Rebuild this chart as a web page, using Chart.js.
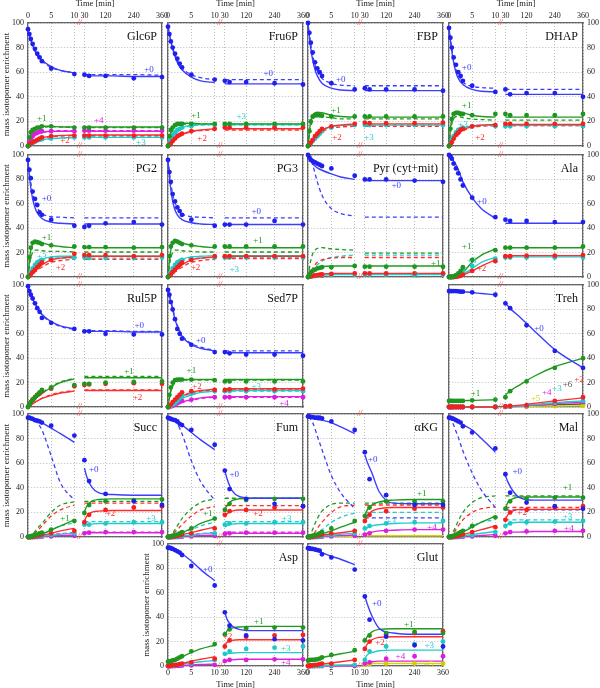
<!DOCTYPE html>
<html><head><meta charset="utf-8">
<script src="https://cdn.jsdelivr.net/npm/chart.js@4.4.0/dist/chart.umd.min.js"></script>
<style>
html,body{margin:0;padding:0;background:#fff;width:600px;height:688px;overflow:hidden;position:relative}
canvas{position:absolute}
</style>
</head><body>
<script>
// ---- time grids (minutes) ----
const T_FIT = [0,0.5,1,1.5,2,3,5,7,10, 30,40,60,90,150,240,360];
const T_OBS = [0,0.3,0.6,1,1.5,2,2.5,3,5,10, 30,50,120,240,360];
const X_TICKS = [0,5,10,30,120,240,360];
const Y_TICKS_STEP = 20;

// ---- Glc6P ----
const GLC6P_FIT = {
 m0:[95,88,82,78,74,70,64.5,61.5,59.5, 57,57,57,57,57,56.5,56.5],
 m1:[0,8,12,14,15,16,16,15.5,15.5, 15.5,15.5,15.5,15.5,15.5,15.5,15.5],
 m2:[0,1,2.5,4,5,6.5,8,8.5,9, 9,9,9,9,9,9,9],
 m3:[0,1,2,3,4,5,6,6.5,7, 7,7,7,7,7,7,7],
 m4:[0,4,7,9,10,11,12,12,12, 12,12,12,12,12,12,12]};
const GLC6P_ALT = {
 m0:[95,87,81,77,73.5,69,64,61.5,59.5, 58,58,58,58,58,58,57.5],
 m1:[0,7,11,13,14,15,15.5,15.5,15, 15,15,15,15,15,15,15],
 m2:[0,1,2.3,3.7,4.7,6,7.5,8,8.5, 8.5,8.5,8.5,8.5,8.5,8.5,8.5],
 m3:[0,0.8,1.8,2.8,3.7,4.8,5.8,6.3,6.8, 7.5,7.5,7.5,7.5,7.5,7.5,7.5],
 m4:[0,3.5,6.5,8.5,9.5,11,12,12.5,12.5, 12.5,12.5,12.5,12.5,12.5,12.5,12.5]};
const GLC6P_OBS = {
 m0:[95,91,87,83,79,75,72,69,63,58.5, 58,57,57,55,56],
 m1:[0,7,11,13,14,15,15,16,16,15, 15,15,15,15,15],
 m2:[0,1,2,3,4,5,6,7,8,8.5, 8.5,8.5,8.5,8.5,8.5],
 m3:[0,0.5,1.5,2.5,3.5,4.5,5,5.5,6,7, 7,7,7,7,7],
 m4:[0,3,6,8,10,11,11.5,12,12,12, 12.5,12.5,12.5,12.5,12.5]};
const GLC6P_LBL = [['+0',305,62],['+1',3,22.5],['+4',91,20.5],['+2',8,4],['+3',270,3]];

// ---- Fru6P ----
const FRU6P_FIT = {
 m0:[97,87,79,73,68,62,56,53,51.5, 50.5,50.5,50.5,50.5,50.5,50.5,50.5],
 m1:[0,10,15,17,18,18.5,18.5,18,18, 18,18,18,18,18,18,18],
 m2:[0,1,3,5,7,9.5,12,13,14, 14,14,14,14,14,14,14],
 m3:[0,4,8,11,13,15,17,17.5,17.5, 17.5,17.5,17.5,17.5,17.5,17.5,17.5]};
const FRU6P_ALT = {
 m0:[97,88,80,74,69.5,63.5,58,55.5,54, 54,54,54,54,54,54,54],
 m1:[0,8,13,15.5,16.5,17.5,18,18,18, 17.5,17.5,17.5,17.5,17.5,17.5,17.5],
 m2:[0,1,3,5,6.5,9,11.5,12.5,13, 13,13,13,13,13,13,13],
 m3:[0,3,6.5,9.5,11.5,14,16.5,17,17.5, 17.5,17.5,17.5,17.5,17.5,17.5,17.5]};
const FRU6P_OBS = {
 m0:[97,91,85,80,75,71,67,64,58,54, 53,52,52,51,50],
 m1:[0,8,13,15,17,18,18,18,18,18, 18,18,18,18,18],
 m2:[0,1,2,4,6,8,9,10,12,14, 15,15,15,15,15],
 m3:[0,3,6,9,11,13,14,15,16,17, 17,17,17,17,17]};
const FRU6P_LBL = [['+0',213,59],['+1',6,25],['+3',99,24],['+2',7.3,6]];

// ---- FBP ----
const FBP_FIT = {
 m0:[100,82,70,62,57,51,47,45.5,45, 45,45,45,45,45,45,45],
 m1:[0,18,25,27,27.5,27,25,24,23.5, 23.5,23.5,23.5,23.5,23.5,23.5,23.5],
 m2:[0,2,5,7.5,10,13,16,17,18, 18,18,18,18,18,18,18],
 m3:[0,2,5,7.5,10,13,16,17,17, 17,17,17,17,17,17,17]};
const FBP_ALT = {
 m0:[100,85,74,66,61,55,51,49.5,49, 49,49,49,49,49,49,49],
 m1:[0,14,21,24,25,24,23,22,22, 22,22,22,22,22,22,22],
 m2:[0,1.5,4,6.5,8.5,11.5,14.5,15.5,16, 16,16,16,16,16,16,16],
 m3:[0,2,4.5,7,9.5,12.5,15.5,16.5,17, 17,17,17,17,17,17,17]};
const FBP_OBS = {
 m0:[100,92,84,76,68,63,60,57,51,46, 47,46,46,46,45],
 m1:[0,12,20,24,25,25,25,24.5,24,24, 24,24,24,24,24],
 m2:[0,1,3,5,8,10,12,14,16,18, 19,18.5,18.5,18.5,19],
 m3:[0,1,2,4,6,8,10,12,15,17, 17,17,17,17,17]};
const FBP_LBL = [['+0',7,54],['+1',6,29],['+2',6.2,7],['+3',47,7]];

// ---- DHAP ----
const DHAP_FIT = {
 m0:[96,80,68,60,55,50,46,44.5,44, 42,42,42,42,42,42,42],
 m1:[0,20,26,28,28,27,25,24,23.5, 23.5,23.5,23.5,23.5,23.5,23.5,23.5],
 m2:[0,2,5,8,10,13,16,17,17.5, 17.5,17.5,17.5,17.5,17.5,17.5,17.5],
 m3:[0,3,7,10,12,14.5,16.5,17,17, 17,17,17,17,17,17,17]};
const DHAP_ALT = {
 m0:[96,82,71,63,58,52,48.5,47.5,47, 46,46,46,46,46,46,46],
 m1:[0,16,22,24,24,23,22,21.5,21, 21,21,21,21,21,21,21],
 m2:[0,1.5,4,7,9,12,15,16,16.5, 16.5,16.5,16.5,16.5,16.5,16.5,16.5],
 m3:[0,2.5,6,9,11,13.5,15.5,16.5,16.5, 16.5,16.5,16.5,16.5,16.5,16.5,16.5]};
const DHAP_OBS = {
 m0:[96,88,80,72,66,60,57,53,49,44, 46,42,43,43,40],
 m1:[0,14,22,26,27,27,26,26,25,26, 26,25,25,25,26],
 m2:[0,1,3,6,9,11,13,14,16,17, 18,18,18,18,18],
 m3:[0,2,5,8,11,13,14,15,16,16, 16,16,16,16,16]};
const DHAP_LBL = [['+0',3.8,64],['+1',3.8,32.5],['+3',3,17],['+2',6.7,7]];

// ---- PG2 ----
const PG2_FIT = {
 m0:[95,76,64,57,52.5,48,45,44,43.5, 43.5,43.5,43.5,43.5,43.5,43.5,43.5],
 m1:[0,20,27,29,29,28,26,25,24, 24,24,24,24,24,24,24],
 m2:[0,1,3,5,7,10,14,15.5,16.5, 17,17,17,17,17,17,17],
 m3:[0,3,7,10,12,14.5,16.5,17,17, 17,17,17,17,17,17,17]};
const PG2_ALT = {
 m0:[95,80,69,62,57,52,49.5,49,48.5, 48.5,48.5,48.5,48.5,48.5,48.5,48.5],
 m1:[0,14,20,22,22,21.5,21,21,20.5, 20.5,20.5,20.5,20.5,20.5,20.5,20.5],
 m2:[0,1,2,4,5.5,8,12,13.5,14.5, 14.5,14.5,14.5,14.5,14.5,14.5,14.5],
 m3:[0,2.5,6,8.5,10.5,13,15,15.5,15.5, 15.5,15.5,15.5,15.5,15.5,15.5,15.5]};
const PG2_OBS = {
 m0:[96,88,81,70,64,59,53,51,47,42, 41,42,44,45,43],
 m1:[0,16,24,28,29,28.5,28,27,26,25, 24.5,24.5,24.5,24,24.5],
 m2:[0,1,2,4,6,8,10,12,14,19, 18,18,18,17,18],
 m3:[0,2,4,7,10,12,13,14,15,16, 16,15.5,15.5,15.5,16]};
const PG2_LBL = [['+0',4,64.5],['+1',4,32],['+3',3,17],['+2',7,8]];

// ---- PG3 ----
const PG3_FIT = {
 m0:[96,75,62,55,51,47,44.5,43.5,43, 43,43,43,43,43,43,43],
 m1:[0,20,27,29.5,29.5,28,26,25,24, 24,24,24,24,24,24,24],
 m2:[0,1,3,5,7,10,14,15.5,16.5, 17,17,17,17,17,17,17],
 m3:[0,3,7,10,12,14.5,16.5,17,17.5, 17.5,17.5,17.5,17.5,17.5,17.5,17.5]};
const PG3_ALT = {
 m0:[96,80,68,61,57,52,49.5,49,48.5, 48.5,48.5,48.5,48.5,48.5,48.5,48.5],
 m1:[0,14,20,22,22,21.5,21,20.5,20.5, 20.5,20.5,20.5,20.5,20.5,20.5,20.5],
 m2:[0,1,2,4,5.5,8,12,13.5,14.5, 15,15,15,15,15,15,15],
 m3:[0,2.5,6,8.5,10.5,13,15,15.5,16, 16,16,16,16,16,16,16]};
const PG3_OBS = {
 m0:[96,86,78,68,62,57,54,51,47,42, 43,43,43,46,43],
 m1:[0,17,25,28,29.5,29,28,27,26,25, 25,25,25,25,25],
 m2:[0,1,2,4,6,8,10,12,14,17, 17,17,17,17,17],
 m3:[0,2,4,7,10,12,13,14,15,16, 16,16,16,16,16]};
const PG3_LBL = [['+0',163,53.5],['+1',170,30],['+2',5.9,8],['+3',70,6]];

// ---- Pyr (cyt+mit) ----
const PYR_FIT = {
 m0:[100,96,93,91,89.5,87.5,84.5,82,80, 79,79,79,79,79,79,79],
 m1:[0,3,5,6.5,7.5,8.5,9,9,9, 9,9,9,9,9,9,9],
 m2:[0,0.5,1,1.5,2,2.5,3,3,3, 3,3,3,3,3,3,3],
 m3:[0,0.2,0.5,1,1.2,1.5,2,2,2, 2,2,2,2,2,2,2]};
const PYR_ALT = {
 m0:[100,97,92,85,78,67,56,52,50, 49,49,49,49,49,49,49],
 m1:[0,12,19,22,23.5,24,23,22.5,22, 19.5,19.5,19.5,19.5,19.5,19.5,19.5],
 m2:[0,3,7,10,12,14,15.5,16,16, 16,16,16,16,16,16,16],
 m3:[0,2,5,8,10,13,16,17,18, 18,18,18,18,18,18,18]};
const PYR_OBS = {
 m0:[100,98,96,95,94,93,92,91,89,83, 80,80,80,79,78],
 m1:[0,2,4,5,6,7,7.5,8,8,9, 8.5,8.5,8.5,8.5,8.5],
 m2:[0,0.3,0.6,1,1.3,1.6,2,2.2,2.5,3, 3,3,3,3,3],
 m3:[0,0.2,0.4,0.6,0.8,1,1.2,1.4,1.6,2, 2,2,2,2,2]};
const PYR_LBL = [['+0',163,75],['+1',330,11],['+2',2.5,1],['+3',240,1]];

// ---- Ala ----
const ALA_FIT = {
 m0:[100,98.5,95,92,88,78,65,56,48, 44,44,44,44,44,44,44],
 m1:[0,0,0.3,0.7,1.5,4,12,18,23, 24,24,24,24,24,24,24],
 m2:[0,0,0,0.1,0.4,1.5,5,9,14, 17.5,17.5,17.5,17.5,17.5,17.5,17.5],
 m3:[0,0,0,0.3,0.8,2.5,7,12,16, 16.5,16.5,16.5,16.5,16.5,16.5,16.5]};
const ALA_OBS = {
 m0:[100,99,97,93,89,85,80,75,65,49, 47,46,46,45,45],
 m1:[0,0,0,0.5,1.5,3,5,8,14,22, 24,24,24,24,25],
 m2:[0,0,0,0,0.2,0.5,1,2,5,13, 17,17,17.5,17.5,18],
 m3:[0,0,0,0,0.5,1.5,3,5,9,15, 16,16,16,16,16]};
const ALA_LBL = [['+0',7.1,62],['+1',3.8,25],['+3',4.9,13],['+2',7,7]];

// ---- Rul5P ----
const RUL5P_FIT = {
 m0:[99,94,89,85,82,76,70,66.5,64, 62,62,62,62,62,61.5,61.5],
 m1:[0,2,4,6,8,11,16,20,23, 24,24,24,24,24,24,24],
 m2:[0,1,2.5,4,5,7,9.5,11.5,13, 13.5,13.5,13.5,13.5,13.5,13.5,13.5]};
const RUL5P_ALT = {
 m0:[99,93.5,88.5,84.5,81.5,75.5,69.5,66,63.5, 62.5,62.5,62.5,62.5,62.5,62,62],
 m1:[0,2,4,6,8,11.5,16.5,20.5,23.5, 25,25,25,25,25,25,25],
 m2:[0,1,2.5,4,5,7,10,12,13.5, 14,14,14,14,14,14,14]};
const RUL5P_OBS = {
 m0:[99,95,92,89,85,81,78,73,69,64, 62,62,60,59.5,59.5],
 m1:[0,2,4,6,8,10,12,14,16,18, 19,19,20,20.5,21],
 m2:[0,2,4,6,8,10,11,13,15,17, 18,18.5,19,19.5,19]};
const RUL5P_LBL = [['+0',263,67],['+1',220,29],['+2',256,8]];

// ---- Sed7P ----
const SED7P_FIT = {
 m0:[96,88,80,72,66,58,51,48,46, 44.5,44.5,44.5,44.5,44.5,44.5,44.5],
 m1:[0,12,18,21,22,22.5,22.5,22.5,22.5, 22.5,22.5,22.5,22.5,22.5,22.5,22.5],
 m2:[0,1,3,5,6.5,9,12,13.5,14.5, 15,15,15,15,15,15,15],
 m3:[0,0.5,1.5,3,4.5,7,10,12,13, 13.5,13.5,13.5,13.5,13.5,13.5,13.5],
 m4:[0,0.2,0.8,1.5,2.5,4,6,7.5,8.5, 8.5,8.5,8.5,8.5,8.5,8.5,8.5]};
const SED7P_ALT = {
 m0:[96,88.5,81,73,67,59,52,49,46.5, 46,46,46,46,46,46,46],
 m1:[0,11,17,20,21.5,22,22,22,22, 22,22,22,22,22,22,22],
 m2:[0,1,2.5,4.5,6,8.5,11.5,13,14, 14,14,14,14,14,14,14],
 m3:[0,0.5,1.5,3,4.5,7,10,12,13, 13,13,13,13,13,13,13],
 m4:[0,0.2,0.7,1.3,2.2,3.7,5.5,7,8, 8,8,8,8,8,8,8]};
const SED7P_OBS = {
 m0:[96,92,86,80,72,64,60,56,51,45, 45,44,43,43,42],
 m1:[0,10,16,20,22,22.5,22.5,22.5,22.5,22, 21,21,21,21,21],
 m2:[0,1,2,4,6,8,10,12,13,14, 14,14.5,14.5,14.5,15],
 m3:[0,0.5,1,2,3,5,7,9,11,13, 13,13,13,13,13],
 m4:[0,0,0.5,1,2,3,4,5,6,8, 8,8,8,8,8]};
const SED7P_LBL = [['+0',7,54],['+1',5,30],['+2',6.2,17],['+3',163,17],['+4',280,3]];

// ---- Treh ----
const TREH_FIT = {
 m0:[95,95,94.9,94.8,94.7,94.4,93.8,93,92, 85,83,79,74,63,47,32],
 m1:[5,5,5,5,5,5.2,5.4,5.6,6, 10,11.5,14.5,18,25,33,40],
 m2:[0,0,0,0,0,0,0,0,0, 0.5,0.7,1,1.5,3,5,7.5],
 m3:[0,0,0,0,0,0,0,0,0, 0.3,0.5,0.7,1,2,3.5,5],
 m4:[0,0,0,0,0,0,0,0,0, 0.2,0.3,0.5,0.8,1.5,2.8,4],
 m5:[0.3,0.3,0.3,0.3,0.3,0.3,0.3,0.3,0.3, 0.3,0.3,0.4,0.5,0.6,0.8,1],
 m6:[0,0,0,0,0,0,0,0,0, 0.1,0.2,0.3,0.5,1,1.8,2.5]};
const TREH_OBS = {
 m0:[95,95,95,95,95,94.8,94.5,94.5,94,92, 85,81,67,46,32],
 m1:[5,5,5,5,5,5,5,5,5.5,6, 8,13,21,32,40],
 m2:[0,0,0,0,0,0,0,0,0,0, 0.5,1,1.5,5,8],
 m3:[0,0,0,0,0,0,0,0,0,0, 0.3,0.6,1,3.5,5],
 m4:[0,0,0,0,0,0,0,0,0,0, 0.2,0.5,0.8,2.5,4],
 m5:[0.3,0.3,0.3,0.3,0.3,0.3,0.3,0.3,0.3,0.3, 0.3,0.3,0.4,0.7,1],
 m6:[0,0,0,0,0,0,0,0,0,0, 0.1,0.3,0.5,1.8,2.5]};
const TREH_LBL = [['+0',173,64.5],['+1',5.7,11],['+2',343,22.7],['+6',294,18],['+3',249,15.3],['+4',206,11.7],['+5',158,6.5]];

// ---- Succ ----
const SUCC_FIT = {
 m0:[97,96.5,96,95.5,95,93,88.5,84,77, 56,49,41,36,34.5,34,34],
 m1:[0,0.3,0.6,1,1.5,2.5,5.5,9,14, 20.5,25,29,30.5,31,31,31],
 m2:[0,0.1,0.3,0.6,1,1.5,3,5,7, 13,17,20,21,21.5,21.5,21.5],
 m3:[0,0,0.1,0.2,0.4,0.8,1.5,2.2,3, 9,10,10.5,11,11,11,11],
 m4:[0,0,0,0.1,0.2,0.4,0.8,1.2,1.5, 3,3.2,3.5,3.5,3.5,3.5,3.5]};
const SUCC_ALT = {
 m0:[97,96.5,96,95,93,87,66,44,30, null,null,null,null,null,null,null],
 m1:[0,1,2.5,4.5,7,11,20,26,28.5, 29,29,29,29,29,29,29],
 m2:[0,0.5,1.5,3,5,9,17,22,26, 27.5,27.5,27.5,27.5,27.5,27.5,27.5],
 m3:[0,0.2,0.5,1,1.5,3,6,9,11.5, 12.5,12.5,12.5,12.5,12.5,12.5,12.5],
 m4:[0,0,0.1,0.2,0.4,0.8,1.8,2.8,3.5, 4,4,4,4,4,4,4]};
const SUCC_OBS = {
 m0:[97,97,96.5,96,95,94.5,94,93,90.5,82.5, 62.5,45.5,35,29,26],
 m1:[0,0,0.5,1,1.5,2,3,3.5,6,13, 19.5,26,29,30,30.5],
 m2:[0,0,0,0.2,0.5,1,1.5,2,3,5, 12,18,22,24,25],
 m3:[0,0,0,0,0.2,0.4,0.6,0.8,1.5,3, 10,10,11,12,12],
 m4:[0,0,0,0,0,0,0.2,0.3,0.5,1, 3,3.5,4,4,4]};
const SUCC_LBL = [['+0',70,54.5],['+1',8,15],['+2',141,18.7],['+3',313,14.6]];

// ---- Fum ----
const FUM_FIT = {
 m0:[97,96.5,95.5,94.5,93,91,85,79,71, 54,47,38,33,31.5,31.5,31.5],
 m1:[0,0.5,1,1.5,2,3.5,7,11,15, 22,26,29.5,31,31.5,31.5,31.5],
 m2:[0,0.1,0.3,0.5,1,2,3.5,5.5,8, 16,19,21,22,22,22,22],
 m3:[0,0,0.1,0.2,0.4,0.8,1.5,2.5,3.5, 8,9.5,10.5,11,11,11,11],
 m4:[0,0,0,0.1,0.2,0.4,0.8,1.2,1.5, 2.5,3,3,3,3,3,3]};
const FUM_ALT = {
 m0:[97,96.5,95.5,94,92,84,62,45,30, null,null,null,null,null,null,null],
 m1:[0,1,3,6,9,15,23,28,31, 31.5,31.5,31.5,31.5,31.5,31.5,31.5],
 m2:[0,0.5,2,4,6,10,17,22,25, 25.5,25.5,25.5,25.5,25.5,25.5,25.5],
 m3:[0,0.2,0.5,1,1.5,3,6,9,12, 12.5,12.5,12.5,12.5,12.5,12.5,12.5],
 m4:[0,0,0.1,0.2,0.4,0.8,1.8,2.8,3.5, 4,4,4,4,4,4,4]};
const FUM_OBS = {
 m0:[97,96.5,96,95.5,95,94,92,91,87,75, 54,39,31,27,25],
 m1:[0,0,0.5,1,1.5,2,3,4,7,15, 22,27,30,31,31],
 m2:[0,0,0,0.2,0.5,1,1.5,2,3,7, 18,21,22,24,25],
 m3:[0,0,0,0,0.2,0.4,0.6,0.8,1.5,3, 10,11,11,12,12],
 m4:[0,0,0,0,0,0,0.2,0.3,0.5,1, 2.5,3,3.5,3.5,3.5]};
const FUM_LBL = [['+0',70,50.4],['+1',8.5,19],['+2',170,19],['+3',291,14.6]];

// ---- alpha-KG ----
const AKG_FIT = {
 m0:[97,97,96.5,96,95.5,95,93,89.5,84, 67,61,52,37,27.5,27,27],
 m1:[0,0.3,0.6,1,1.5,2.5,5,8,12, 17,22,26,28.5,30,30.5,30.5],
 m2:[0,0.1,0.3,0.5,1,1.5,2.5,3.5,5, 13,17,21,23,24,24,24],
 m3:[0,0,0.1,0.2,0.4,0.8,1.5,2.2,3, 6,7.5,9,10,11,11.5,11.5],
 m4:[0,0,0,0.1,0.2,0.4,0.8,1.2,1.5, 2,3,4,5,5.5,6,6],
 m5:[0.5,0.5,0.5,0.5,0.5,0.5,0.5,0.5,0.5, 1,1,1,1,1,1,1]};
const AKG_ALT = {
 m0:[97,96,93,88,82,71,50,36,23, 15.5,15.5,15.5,15.5,15.5,15.5,15.5],
 m1:[0,2,6,11,15,21,26.5,27.5,27.5, 27.5,27.5,27.5,27.5,27.5,27.5,27.5],
 m2:[0,0.5,2,4,7,12,20,24.5,26, 26,26,26,26,26,26,26],
 m3:[0,0.5,1,2,3,6,12,16,19.5, 20,20,20,20,20,20,20]};
const AKG_OBS = {
 m0:[98,98,97.5,97.5,97,97,97,96.5,94,87, 69,47,34,26,26],
 m1:[0,0,0.5,1,1.5,2,3,4,7,13, 17,24,29,29,29],
 m2:[0,0,0,0.2,0.5,1,1.5,2,3,5, 13,18,21,23,24],
 m3:[0,0,0,0,0.2,0.4,0.6,0.8,1.5,3, 7,9,11,12,13],
 m4:[0,0,0,0,0,0,0.2,0.3,0.5,1, 2,3,5,6,6]};
const AKG_LBL = [['+0',63,62.6],['+1',270,35.5],['+3',141,12.4],['+4',313,8]];

// ---- Mal ----
const MAL_FIT = {
 m0:[97,96.5,96,95,94,91.5,87,80,69, 50,45,38,32,30,30,30],
 m1:[0,0.5,1,1.5,2,4,8,12,17, 23,28,31,32.5,32.5,32.5,32.5],
 m2:[0,0.1,0.3,0.6,1,2,4,6,9, 14,18,21,22.5,22.5,22.5,22.5],
 m3:[0,0,0.1,0.2,0.4,0.8,2,3,4.5, 9,10.5,11.5,12,12,12,12],
 m4:[0,0,0,0.1,0.2,0.4,0.8,1.2,2, 3,3.5,4,4,4.5,4.5,4.5]};
const MAL_ALT = {
 m0:[97,95,91,86,81,70,52,38,24, 22,22,22,22,22,22,22],
 m1:[0,2,5,9,13,20,28,32,33.5, 33.5,33.5,33.5,33.5,33.5,33.5,33.5],
 m2:[0,1,3,6,9,14,20,23,24.5, 24,24,24,24,24,24,24],
 m3:[0,0.5,1,2,3,5,9,12,14, 14,14,14,14,14,14,14]};
const MAL_OBS = {
 m0:[97,97,96.5,96,95,94,93,90,85,72, 51,36,28,25,23],
 m1:[0,0,0.5,1,2,3,4,5,9,16, 23,29,31,32,32],
 m2:[0,0,0,0.2,0.5,1,1.5,2,4,8, 14,20,22,24,25],
 m3:[0,0,0,0,0.2,0.4,0.6,0.8,1.5,4, 9,11,12,12.5,13],
 m4:[0,0,0,0,0,0,0.2,0.3,0.5,1, 3,4,4.5,5,5]};
const MAL_LBL = [['+0',80,53],['+1',294,40],['+2',101,20],['+3',294,16.5],['+4',300,6.5]];

// ---- Asp ----
const ASP_FIT = {
 m0:[97,96.5,96,95.5,94.5,92,86,79,70, 44,38,33,30,29,29,29],
 m1:[3.5,4,4.5,5,6,7.5,11,14,17, 25.5,29,31,32,32.5,32.5,32.5],
 m2:[0,0.2,0.5,1,1.5,2,4,5.5,7.5, 17,19.5,21,21.5,21.5,21.5,21.5],
 m3:[0,0.1,0.2,0.5,1,1.5,2.5,3.5,4.5, 9,10,10.5,11,11,11,11],
 m4:[0,0,0.1,0.2,0.3,0.5,0.8,1.2,1.5, 4,4.5,5,5.5,5.5,5.5,5.5]};
const ASP_OBS = {
 m0:[97,97,96.5,96,95,94,93,91,82,66, 44,33,25,22,21],
 m1:[3.5,3.8,4,4.5,5,6,7,8,12,18, 26,30,31,31.5,31.5],
 m2:[0,0,0.5,0.5,1,1,1.5,2,3,6, 16,21,24,25,25.5],
 m3:[0,0,0,0.2,0.5,1,1,1.5,2,5, 10,12,14,15,16],
 m4:[0,0,0,0,0,0.2,0.3,0.4,0.5,1, 4,5,5,5.5,5.5]};
const ASP_LBL = [['+0',8.5,78.7],['+1',173,36],['+2',41,24],['+3',287,14],['+4',287,3]];

// ---- Glut ----
const GLUT_FIT = {
 m0:[96.5,96,95.5,95,94.5,93,90,87.5,83, 57,51,41,31,27,26,26],
 m1:[4.5,5,5.5,6,6.5,7,8.5,10,12, 20,24,28,30,30.5,30.5,30.5],
 m2:[0,0.2,0.5,0.8,1,1.5,2.5,3.5,5, 14,18,21.5,23.5,24,24,24],
 m3:[0,0,0.1,0.2,0.3,0.4,0.6,0.8,1, 6,9,11,12.5,13,13,13],
 m4:[0,0,0,0,0,0,0,0,0, 1.5,2.5,3.5,4,4,4,4],
 m5:[0.5,0.5,0.5,0.5,0.5,0.5,0.5,0.5,0.5, 1,1.5,2,2,2,2,2]};
const GLUT_OBS = {
 m0:[96.5,96.5,96,96,95.5,95,94.5,91.5,89,79, 57,38,24,17,16],
 m1:[4.5,4.8,5,5,5.2,5.5,6,7,9,13, 21,25,27,28,27],
 m2:[0,0,0.5,0.5,1,1,1.5,2,2,5, 14,20,26,27,28.5],
 m3:[0,0,0,0,0,0.2,0.3,0.4,0.5,1, 5,12,16,18,20],
 m4:[0,0,0,0,0,0,0,0,0,0, 2,3,6,8,8],
 m5:[0.5,0.5,0.5,0.5,0.5,0.5,0.5,0.5,0.5,0.5, 1,1.5,2,2,2]};
const GLUT_LBL = [['+0',80,51.4],['+1',216,33.6],['+2',94,19.4],['+3',302,17],['+4',180,7.6],['+5',300,1]];

// ---- layout / styling ----
const COL_X = [28,168,308,449];
const COL_W = [134,135,135,134];
const ROW_Y = [23,155,285,414,544];
const ROW_H = [123,122,122,123,122];
const LINE_COLORS = {m0:'#3d3dff',m1:'#1f9a1f',m2:'#ff2d2d',m3:'#20cccc',m4:'#e020e0',m5:'#d6d600',m6:'#555555'};
const DOT_COLORS  = {m0:'#2020ee',m1:'#1f961f',m2:'#f51f1f',m3:'#1cc8c8',m4:'#dd1cdd',m5:'#d0d000',m6:'#555555'};
const SERIF = '"Liberation Serif", "DejaVu Serif", serif';

// broken time axis: 0..10 min linear, then 30..360 min compressed
const GAP_U = 2.17, SEG2_U = 16.74;
const UMAX = 10 + GAP_U + SEG2_U;
const tx = t => t <= 10 ? t : 10 + GAP_U + (t - 30) * SEG2_U / 330;

const PANELS = [
 {name:'Glc6P', r:0,c:0, fit:GLC6P_FIT, alt:GLC6P_ALT, obs:GLC6P_OBS, lbl:GLC6P_LBL},
 {name:'Fru6P', r:0,c:1, fit:FRU6P_FIT, alt:FRU6P_ALT, obs:FRU6P_OBS, lbl:FRU6P_LBL},
 {name:'FBP',   r:0,c:2, fit:FBP_FIT,   alt:FBP_ALT,   obs:FBP_OBS,   lbl:FBP_LBL},
 {name:'DHAP',  r:0,c:3, fit:DHAP_FIT,  alt:DHAP_ALT,  obs:DHAP_OBS,  lbl:DHAP_LBL},
 {name:'PG2',   r:1,c:0, fit:PG2_FIT,   alt:PG2_ALT,   obs:PG2_OBS,   lbl:PG2_LBL},
 {name:'PG3',   r:1,c:1, fit:PG3_FIT,   alt:PG3_ALT,   obs:PG3_OBS,   lbl:PG3_LBL},
 {name:'Pyr (cyt+mit)', r:1,c:2, fit:PYR_FIT, alt:PYR_ALT, obs:PYR_OBS, lbl:PYR_LBL},
 {name:'Ala',   r:1,c:3, fit:ALA_FIT,   alt:null,      obs:ALA_OBS,   lbl:ALA_LBL},
 {name:'Rul5P', r:2,c:0, fit:RUL5P_FIT, alt:RUL5P_ALT, obs:RUL5P_OBS, lbl:RUL5P_LBL},
 {name:'Sed7P', r:2,c:1, fit:SED7P_FIT, alt:SED7P_ALT, obs:SED7P_OBS, lbl:SED7P_LBL},
 {name:'Treh',  r:2,c:3, fit:TREH_FIT,  alt:null,      obs:TREH_OBS,  lbl:TREH_LBL},
 {name:'Succ',  r:3,c:0, fit:SUCC_FIT,  alt:SUCC_ALT,  obs:SUCC_OBS,  lbl:SUCC_LBL},
 {name:'Fum',   r:3,c:1, fit:FUM_FIT,   alt:FUM_ALT,   obs:FUM_OBS,   lbl:FUM_LBL},
 {name:'\u03b1KG', r:3,c:2, fit:AKG_FIT, alt:AKG_ALT,  obs:AKG_OBS,   lbl:AKG_LBL},
 {name:'Mal',   r:3,c:3, fit:MAL_FIT,   alt:MAL_ALT,   obs:MAL_OBS,   lbl:MAL_LBL},
 {name:'Asp',   r:4,c:1, fit:ASP_FIT,   alt:null,      obs:ASP_OBS,   lbl:ASP_LBL},
 {name:'Glut',  r:4,c:2, fit:GLUT_FIT,  alt:null,      obs:GLUT_OBS,  lbl:GLUT_LBL}
];

function lineData(vals){
  const out=[];
  T_FIT.forEach((t,i)=>{ if(t===30) out.push({x:(tx(10)+tx(30))/2, y:null}); out.push({x:tx(t), y:vals[i]}); });
  return out;
}
function pointData(vals){ return T_OBS.map((t,i)=>({x:tx(t), y:vals[i]})); }

const panelText = {
  id:'panelText',
  afterDraw(chart, args, o){
    const {ctx, chartArea:a} = chart;
    const xs = chart.scales.x, ys = chart.scales.y;
    ctx.save();
    ctx.fillStyle = '#111';
    ctx.font = '12px ' + SERIF;
    ctx.textAlign = 'right'; ctx.textBaseline = 'alphabetic';
    ctx.fillText(o.name, a.right - 5, a.top + 17);
    ctx.font = '9px ' + SERIF;
    ctx.textAlign = 'center'; ctx.textBaseline = 'middle';
    o.labels.forEach(([s,t,v])=>{
      ctx.fillStyle = LINE_COLORS['m'+s.slice(1)];
      ctx.fillText(s, xs.getPixelForValue(tx(t)), ys.getPixelForValue(v));
    });
    ctx.fillStyle = '#ff3030';
    ctx.font = 'italic 8px ' + SERIF;
    const bx = xs.getPixelForValue((tx(10)+tx(30))/2);
    ctx.fillText('//', bx, a.top);
    ctx.fillText('//', bx, a.bottom);
    ctx.restore();
  }
};

const tickFont = {family:SERIF, size:8};
function xScale(pos, show){
  return {
    type:'linear', axis:'x', position:pos, min:0, max:UMAX,
    afterFit: s => { s.height = 24; },
    afterBuildTicks: s => { s.ticks = X_TICKS.map(t => ({value: tx(t)})); },
    ticks:{display:show, autoSkip:false, maxRotation:0, padding:2, font:tickFont, color:'#222',
           callback:(v,i)=>String(X_TICKS[i])},
    grid:{display:pos==='bottom', drawTicks:false, color:'#a8a8a8', lineWidth:0.8},
    border:{display:true, color:'#666', width:1.3, dash:[1,2]},
    title:{display:show, text:'Time [min]', font:{family:SERIF, size:8.5}, color:'#222', padding:0}
  };
}
function yScale(pos, show, withTitle){
  return {
    type:'linear', axis:'y', position:pos, min:0, max:100,
    afterFit: s => { s.width = 30; },
    ticks:{display:show, stepSize:Y_TICKS_STEP, padding:4, font:tickFont, color:'#222'},
    grid:{display:pos==='left', drawTicks:false, color:'#a8a8a8', lineWidth:0.8},
    border:{display:true, color:'#666', width:1.3, dash:[1,2]},
    title:{display:withTitle, text:'mass isotopomer enrichment', font:{family:SERIF, size:9}, color:'#222', padding:{top:3,bottom:0}}
  };
}

PANELS.forEach(p=>{
  const w = COL_W[p.c] + 60, h = ROW_H[p.r] + 48;
  const cv = document.createElement('canvas');
  cv.width = w; cv.height = h;
  cv.style.left = (COL_X[p.c]-30)+'px'; cv.style.top = (ROW_Y[p.r]-24)+'px';
  cv.style.width = w+'px'; cv.style.height = h+'px';
  document.body.appendChild(cv);

  const ds = [];
  Object.keys(p.fit).forEach(k=>{
    ds.push({data:lineData(p.fit[k]), borderColor:LINE_COLORS[k], borderWidth:1.4, pointRadius:0,
             cubicInterpolationMode:'monotone', spanGaps:false, fill:false, order:1, clip:4});
    if (p.alt && p.alt[k]) ds.push({data:lineData(p.alt[k]), borderColor:LINE_COLORS[k], borderWidth:1.3,
             borderDash:[4,3], pointRadius:0, cubicInterpolationMode:'monotone', spanGaps:false, fill:false, order:2, clip:4});
    if (p.obs[k]) ds.push({data:pointData(p.obs[k]), showLine:false, pointRadius:2.4, pointBorderWidth:0,
             pointBackgroundColor:DOT_COLORS[k], borderColor:DOT_COLORS[k], order:0, clip:5});
  });

  const top = p.r===0, bottom = p.r===4;
  const left = p.c===0 || (p.r===4 && p.c===1);
  const right = p.c===3;
  new Chart(cv, {
    type:'line',
    data:{datasets:ds},
    options:{
      responsive:false, animation:false, events:[],
      layout:{padding:0},
      plugins:{legend:{display:false}, tooltip:{enabled:false}, panelText:{name:p.name, labels:p.lbl}},
      scales:{
        x: xScale('bottom', bottom),
        x2: xScale('top', top),
        y: yScale('left', left, left),
        y2: yScale('right', right, false)
      }
    },
    plugins:[panelText]
  });
});
</script>
</body></html>
